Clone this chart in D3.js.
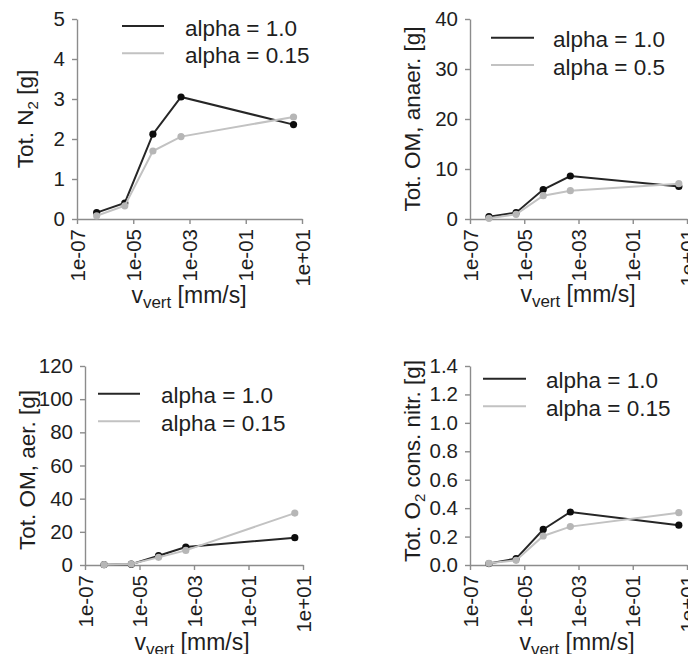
<!DOCTYPE html>
<html>
<head>
<meta charset="utf-8">
<script src="https://cdn.jsdelivr.net/npm/d3@7"></script>
<style>
    body { margin: 0; background: #ffffff; }
    svg { display: block; font-family: "Liberation Sans", Arial, sans-serif; }
</style>
</head>
<body>
<svg id="drawing_region"></svg>
<script>
// x values (vertical velocity, mm/s) shared by all panels
const vVert = [5e-7, 5e-6, 5e-5, 5e-4, 5];
const xTickValues = [1e-7, 1e-5, 1e-3, 1e-1, 1e1];
const xTickLabels = ["1e-07", "1e-05", "1e-03", "1e-01", "1e+01"];

// panel 1: Tot. N2
const n2Alpha1   = [0.16, 0.40, 2.12, 3.05, 2.36];
const n2Alpha015 = [0.08, 0.33, 1.70, 2.06, 2.55];
const n2Ticks    = [0, 1, 2, 3, 4, 5];

// panel 2: Tot. OM, anaer.
const omAnaerAlpha1  = [0.46, 1.27, 5.9, 8.6, 6.5];
const omAnaerAlpha05 = [0.13, 0.93, 4.67, 5.67, 7.07];
const omAnaerTicks   = [0, 10, 20, 30, 40];

// panel 3: Tot. OM, aer.
const omAerAlpha1   = [0.2, 0.5, 5.6, 10.8, 16.5];
const omAerAlpha015 = [0.2, 0.6, 4.6, 8.8, 31.3];
const omAerTicks    = [0, 20, 40, 60, 80, 100, 120];

// panel 4: Tot. O2 cons. nitr.
const o2Alpha1   = [0.010, 0.045, 0.250, 0.373, 0.280];
const o2Alpha015 = [0.012, 0.033, 0.204, 0.270, 0.368];
const o2Ticks    = [0, 0.2, 0.4, 0.6, 0.8, 1.0, 1.2, 1.4];

const legendA = ["alpha = 1.0", "alpha = 0.15"];
const legendB = ["alpha = 1.0", "alpha = 0.5"];

const blackLine = '#262626', blackDot = '#0d0d0d';
const greyLine = '#c2c2c2', greyDot = '#b6b6b6';
const textColor = '#1e1e1e';

const svg = d3.select('#drawing_region')
    .attr('width', 688)
    .attr('height', 654);

class LinePanel {

    constructor( config, black, grey ) {
        this.config = config;
        this.black = black;
        this.grey = grey;
        this.init();
    }

    init() {
        let self = this;
        self.chart = svg.append('g');

        self.xscale = d3.scaleLog()
            .domain( [1e-7, 10] )
            .range( self.config.xrange );

        self.yscale = d3.scaleLinear()
            .domain( [0, d3.max(self.config.yticks)] )
            .range( self.config.yrange );

        self.xaxis = d3.axisBottom( self.xscale )
            .tickValues( xTickValues )
            .tickFormat( (d, i) => xTickLabels[i] )
            .tickSize(5)
            .tickSizeOuter(0);

        self.yaxis = d3.axisLeft( self.yscale )
            .tickValues( self.config.yticks )
            .tickFormat( self.config.yformat )
            .tickSize(5)
            .tickPadding(7)
            .tickSizeOuter(0);
    }

    render() {
        let self = this;
        const c = self.config;

        const xg = self.chart.append('g')
            .attr('transform', `translate(0, ${c.yrange[0]})`)
            .call( self.xaxis );
        xg.selectAll('text')
            .attr('transform', 'rotate(-90)')
            .attr('text-anchor', 'end')
            .attr('x', -10)
            .attr('y', 0)
            .attr('dy', '0.35em');

        const yg = self.chart.append('g')
            .attr('transform', `translate(${c.xrange[0]}, 0)`)
            .call( self.yaxis );

        [xg, yg].forEach( g => {
            g.select('.domain').attr('stroke', '#8c8c8c').attr('stroke-width', 1.4);
            g.selectAll('.tick line').attr('stroke', '#8c8c8c').attr('stroke-width', 1.4);
            g.selectAll('text')
                .attr('fill', textColor)
                .style('font-size', '20.5px')
                .style('font-family', '"Liberation Sans", Arial, sans-serif');
        });

        const line = d3.line()
            .x( (d, i) => self.xscale(vVert[i]) )
            .y( d => self.yscale(d) );

        // black series first, grey drawn on top
        [self.black, self.grey].forEach( s => {
            self.chart.append('path')
                .datum( s.values )
                .attr('fill', 'none')
                .attr('stroke', s.line)
                .attr('stroke-width', 2)
                .attr('d', line);

            self.chart.selectAll(null)
                .data( s.values )
                .enter()
                .append('circle')
                .attr('cx', (d, i) => self.xscale(vVert[i]))
                .attr('cy', d => self.yscale(d))
                .attr('r', 3.6)
                .attr('fill', s.dot);
        });

        // legend: black entry on top, grey below
        const lg = c.legend;
        [self.black, self.grey].forEach( (s, i) => {
            const y = lg.y + i * lg.dy;
            self.chart.append('line')
                .attr('x1', lg.x1).attr('x2', lg.x2)
                .attr('y1', y).attr('y2', y)
                .attr('stroke', s.line)
                .attr('stroke-width', 2);
            self.chart.append('text')
                .attr('x', lg.tx)
                .attr('y', y + 9.5)
                .attr('fill', textColor)
                .style('font-size', '22.5px')
                .text( c.labels[i] );
        });

        // y axis title (rotated, with optional subscript)
        const yt = self.chart.append('text')
            .attr('transform', `translate(${c.ylabel.x}, ${c.ylabel.y}) rotate(-90)`)
            .attr('text-anchor', 'middle')
            .attr('fill', textColor)
            .style('font-size', '22.5px');
        c.ylabel.parts.forEach( p => {
            const t = yt.append('tspan').text( p[0] );
            if (p[1] === 'sub') t.style('font-size', '15px').attr('dy', 5);
            if (p[1] === 'up') t.attr('dy', -5);
        });

        // x axis title
        const xt = self.chart.append('text')
            .attr('x', c.xlabel.x)
            .attr('y', c.xlabel.y)
            .attr('text-anchor', 'middle')
            .attr('fill', textColor)
            .style('font-size', '23px');
        xt.append('tspan').text('v');
        xt.append('tspan').text('vert').style('font-size', '17px').attr('dy', 5);
        xt.append('tspan').text(' [mm/s]').attr('dy', -5);
    }
}

const panels = [
    {
        config: {
            xrange: [77, 302], yrange: [219, 19],
            yticks: n2Ticks, yformat: d3.format('d'),
            labels: legendA,
            legend: {x1: 122, x2: 164, tx: 185, y: 26, dy: 27.3},
            ylabel: {x: 33, y: 119, parts: [['Tot. N'], ['2', 'sub'], [' [g]', 'up']]},
            xlabel: {x: 189, y: 303}
        },
        black: n2Alpha1, grey: n2Alpha015
    },
    {
        config: {
            xrange: [470, 687], yrange: [219, 19],
            yticks: omAnaerTicks, yformat: d3.format('d'),
            labels: legendB,
            legend: {x1: 491, x2: 534, tx: 553, y: 37.7, dy: 27.3},
            ylabel: {x: 420, y: 119, parts: [['Tot. OM, anaer. [g]']]},
            xlabel: {x: 578, y: 302}
        },
        black: omAnaerAlpha1, grey: omAnaerAlpha05
    },
    {
        config: {
            xrange: [85, 303], yrange: [565, 366],
            yticks: omAerTicks, yformat: d3.format('d'),
            labels: legendA,
            legend: {x1: 98, x2: 140, tx: 161, y: 393.7, dy: 27.6},
            ylabel: {x: 35, y: 470, parts: [['Tot. OM, aer. [g]']]},
            xlabel: {x: 192, y: 650}
        },
        black: omAerAlpha1, grey: omAerAlpha015
    },
    {
        config: {
            xrange: [470, 687], yrange: [565, 366],
            yticks: o2Ticks, yformat: d3.format('.1f'),
            labels: legendA,
            legend: {x1: 483, x2: 526, tx: 546, y: 378.7, dy: 27.6},
            ylabel: {x: 420, y: 461, parts: [['Tot. O'], ['2', 'sub'], [' cons. nitr. [g]', 'up']]},
            xlabel: {x: 577, y: 650}
        },
        black: o2Alpha1, grey: o2Alpha015
    }
];

panels.forEach( p => {
    const panel = new LinePanel(
        p.config,
        {values: p.black, line: blackLine, dot: blackDot},
        {values: p.grey, line: greyLine, dot: greyDot}
    );
    panel.render();
});
</script>
</body>
</html>
